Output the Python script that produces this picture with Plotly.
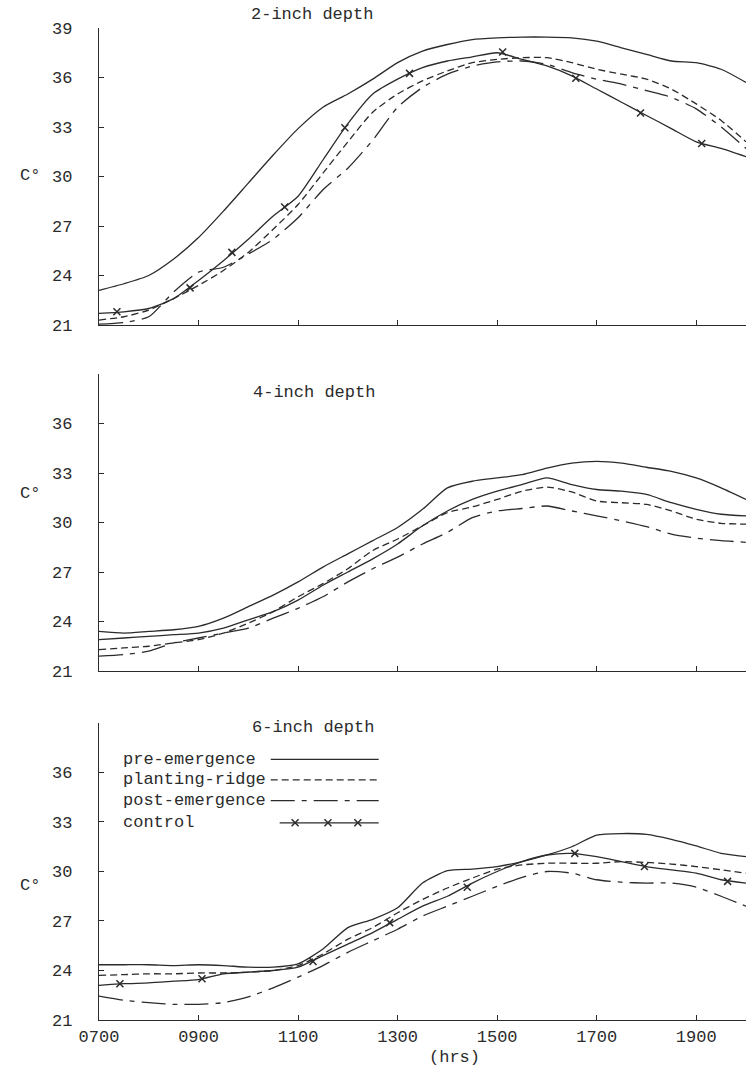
import plotly.graph_objects as go

# ---------------- data ----------------
HOURS = [7.0, 7.5, 8.0, 8.5, 9.0, 9.5, 10.0, 10.5, 11.0, 11.5, 12.0, 12.5, 13.0,
         13.5, 14.0, 14.5, 15.0, 15.5, 16.0, 16.5, 17.0, 17.5, 18.0, 18.5, 19.0,
         19.5, 20.0]
HOUR_TICKS = [7, 9, 11, 13, 15, 17, 19]
HOUR_LABELS = ["0700", "0900", "1100", "1300", "1500", "1700", "1900"]
TEMP_TICKS_TOP = [21, 24, 27, 30, 33, 36, 39]
TEMP_TICKS = [21, 24, 27, 30, 33, 36]

SERIES_NAMES = ["pre-emergence", "planting-ridge", "post-emergence", "control"]
PANEL_TITLES = ["2-inch depth", "4-inch depth", "6-inch depth"]

# 2-inch depth
PRE_2IN = [23.1, 23.5, 24.0, 25.0, 26.3, 27.9, 29.6, 31.3, 32.9, 34.2, 35.0, 35.9, 36.9,
           37.6, 38.0, 38.3, 38.4, 38.45, 38.45, 38.4, 38.2, 37.8, 37.4, 37.0, 36.9, 36.5, 35.7]
RIDGE_2IN = [21.3, 21.5, 21.9, 22.6, 23.4, 24.3, 25.4, 26.8, 28.3, 30.2, 32.1, 33.9, 35.0,
             35.8, 36.4, 36.9, 37.1, 37.2, 37.2, 36.9, 36.5, 36.2, 35.9, 35.3, 34.4, 33.4, 32.1]
POST_2IN = [21.05, 21.15, 21.5, 23.0, 24.2, 24.5, 25.3, 26.2, 27.5, 29.2, 30.5, 32.2, 34.2,
            35.4, 36.2, 36.7, 36.95, 37.0, 36.8, 36.3, 35.9, 35.6, 35.2, 34.8, 34.1, 33.0, 31.7]
CTRL_2IN = [21.7, 21.8, 22.0, 22.6, 23.7, 24.9, 26.2, 27.6, 28.8, 31.0, 33.2, 35.0, 35.9,
            36.6, 37.0, 37.25, 37.5, 37.1, 36.7, 36.1, 35.3, 34.5, 33.7, 32.9, 32.1, 31.7, 31.2]
CTRL_MARK_2IN_H = [7.36, 8.83, 9.67, 10.73, 11.94, 13.24, 15.11, 16.58, 17.88, 19.11]
CTRL_MARK_2IN_T = [21.8, 23.25, 25.4, 28.15, 32.95, 36.25, 37.55, 35.95, 33.85, 32.0]

# 4-inch depth
PRE_4IN = [23.4, 23.3, 23.4, 23.5, 23.7, 24.2, 24.9, 25.6, 26.4, 27.3, 28.1, 28.9, 29.7,
           30.8, 32.1, 32.5, 32.7, 32.9, 33.3, 33.6, 33.7, 33.6, 33.35, 33.1, 32.7, 32.1, 31.4]
RIDGE_4IN = [22.3, 22.4, 22.5, 22.7, 22.9, 23.3, 23.9, 24.6, 25.5, 26.3, 27.2, 28.3, 29.0,
             29.8, 30.6, 30.95, 31.4, 31.9, 32.15, 31.85, 31.3, 31.2, 31.1, 30.7, 30.2, 29.95, 29.9]
POST_4IN = [21.9, 22.0, 22.2, 22.7, 23.0, 23.3, 23.6, 24.2, 24.8, 25.5, 26.4, 27.2, 27.9,
            28.7, 29.4, 30.3, 30.7, 30.85, 31.0, 30.7, 30.4, 30.1, 29.75, 29.3, 29.05, 28.9, 28.8]
CTRL_4IN = [22.9, 23.0, 23.1, 23.2, 23.3, 23.6, 24.1, 24.6, 25.3, 26.2, 27.0, 27.8, 28.7,
            29.8, 30.7, 31.4, 31.9, 32.3, 32.7, 32.3, 32.0, 31.9, 31.7, 31.2, 30.8, 30.5, 30.4]

# 6-inch depth
PRE_6IN = [24.35, 24.35, 24.35, 24.3, 24.35, 24.3, 24.2, 24.2, 24.4, 25.3, 26.6, 27.1, 27.8,
           29.3, 30.05, 30.15, 30.3, 30.6, 31.0, 31.5, 32.2, 32.3, 32.25, 31.95, 31.55, 31.1, 30.9]
RIDGE_6IN = [23.7, 23.75, 23.8, 23.8, 23.85, 23.85, 23.9, 24.0, 24.3, 25.0, 25.9, 26.6, 27.5,
             28.3, 29.0, 29.6, 30.15, 30.4, 30.5, 30.5, 30.5, 30.6, 30.55, 30.45, 30.3, 30.1, 29.9]
POST_6IN = [22.45, 22.2, 22.05, 21.95, 21.95, 22.05, 22.4, 22.95, 23.6, 24.3, 25.1, 25.8, 26.5,
            27.3, 27.9, 28.5, 29.1, 29.65, 30.0, 29.9, 29.5, 29.35, 29.3, 29.3, 29.05, 28.5, 27.9]
CTRL_6IN = [23.1, 23.2, 23.25, 23.35, 23.45, 23.8, 23.9, 24.0, 24.2, 24.9, 25.6, 26.3, 27.1,
            27.9, 28.5, 29.3, 30.0, 30.6, 31.0, 31.1, 30.9, 30.6, 30.3, 30.1, 29.9, 29.5, 29.3]
CTRL_MARK_6IN_H = [7.42, 9.07, 11.3, 12.84, 14.4, 16.56, 17.96, 19.63]
CTRL_MARK_6IN_T = [23.2, 23.5, 24.55, 26.9, 29.05, 31.1, 30.3, 29.4]

# ---------------- styling ----------------
INK = "#2b2b2b"
FONT = "Liberation Mono, Courier New, monospace"
FS = 17
LW = 1.3
DASH = {
    "pre-emergence": "solid",
    "planting-ridge": "7px,4px",
    "post-emergence": "24px,7px,5px,7px",
    "control": "solid",
}

panels = [
    ("x", "y", [PRE_2IN, RIDGE_2IN, POST_2IN, CTRL_2IN], (CTRL_MARK_2IN_H, CTRL_MARK_2IN_T)),
    ("x2", "y2", [PRE_4IN, RIDGE_4IN, POST_4IN, CTRL_4IN], None),
    ("x3", "y3", [PRE_6IN, RIDGE_6IN, POST_6IN, CTRL_6IN], (CTRL_MARK_6IN_H, CTRL_MARK_6IN_T)),
]

fig = go.Figure()
for xa, ya, series, marks in panels:
    for name, vals in zip(SERIES_NAMES, series):
        fig.add_trace(go.Scatter(
            x=HOURS, y=vals, xaxis=xa, yaxis=ya, mode="lines",
            line=dict(color=INK, width=LW, dash=DASH[name], shape="spline", smoothing=0.6),
            showlegend=False, hoverinfo="skip"))
    if marks is not None:
        fig.add_trace(go.Scatter(
            x=marks[0], y=marks[1], xaxis=xa, yaxis=ya, mode="markers",
            marker=dict(symbol="x-thin", size=7, line=dict(color=INK, width=1.5)),
            showlegend=False, hoverinfo="skip"))

# ---------------- in-panel legend (6-inch panel) ----------------
LEG_TEXT_X = 7.45
LEG_LINE_X = (10.45, 12.62)
LEG_CTRL_X = (10.63, 12.62)
LEG_CTRL_MARKS = [10.94, 11.6, 12.2]
LEG_ROWS = [36.8, 35.55, 34.3, 32.95]

for name, row in zip(SERIES_NAMES, LEG_ROWS):
    fig.add_annotation(x=LEG_TEXT_X, y=row, xref="x3", yref="y3", text=name,
                       showarrow=False, xanchor="left", yanchor="middle",
                       font=dict(family=FONT, size=FS, color=INK))
    xs = LEG_CTRL_X if name == "control" else LEG_LINE_X
    fig.add_trace(go.Scatter(
        x=list(xs), y=[row, row], xaxis="x3", yaxis="y3", mode="lines",
        line=dict(color=INK, width=LW, dash=DASH[name]),
        showlegend=False, hoverinfo="skip"))
fig.add_trace(go.Scatter(
    x=LEG_CTRL_MARKS, y=[LEG_ROWS[3]] * len(LEG_CTRL_MARKS), xaxis="x3", yaxis="y3",
    mode="markers", marker=dict(symbol="x-thin", size=7, line=dict(color=INK, width=1.5)),
    showlegend=False, hoverinfo="skip"))

# ---------------- axes ----------------
axis_common = dict(showline=True, linecolor=INK, linewidth=1.2, ticks="inside",
                   ticklen=5, tickwidth=1.2, tickcolor=INK, showgrid=False,
                   zeroline=False, tickfont=dict(family=FONT, size=FS, color=INK))

domains = [[0.7006, 1.0], [0.3518, 0.6512], [0.0, 0.2994]]
layout_axes = {}
for i, (dom, key) in enumerate(zip(domains, ["", "2", "3"])):
    layout_axes["xaxis" + key] = dict(
        axis_common, domain=[0, 1], range=[7, 20], anchor="y" + key,
        tickvals=HOUR_TICKS, ticktext=HOUR_LABELS, showticklabels=(i == 2))
    layout_axes["yaxis" + key] = dict(
        axis_common, domain=dom, range=[21, 39], anchor="x" + key,
        tickvals=TEMP_TICKS_TOP if i == 0 else TEMP_TICKS, ticklabelstandoff=22)

fig.update_layout(
    width=748, height=1067,
    margin=dict(l=99, r=2, t=28, b=47),
    paper_bgcolor="white", plot_bgcolor="white",
    font=dict(family=FONT, size=FS, color=INK),
    **layout_axes,
)

# titles and axis labels
title_pos = [(0.329, 1.014), (0.332, 0.633), (0.331, 0.2944)]
for t, (px, py) in zip(PANEL_TITLES, title_pos):
    fig.add_annotation(x=px, y=py, xref="paper", yref="paper", text=t, showarrow=False,
                       xanchor="center", yanchor="middle",
                       font=dict(family=FONT, size=FS, color=INK))
for py in [0.851, 0.531, 0.136]:
    fig.add_annotation(x=-0.1066, y=py, xref="paper", yref="paper", text="C°",
                       showarrow=False, xanchor="center", yanchor="middle",
                       font=dict(family=FONT, size=FS, color=INK))
fig.add_annotation(x=0.549, y=-0.0373, xref="paper", yref="paper", text="(hrs)",
                   showarrow=False, xanchor="center", yanchor="middle",
                   font=dict(family=FONT, size=FS, color=INK))

fig.write_html("out.html")
